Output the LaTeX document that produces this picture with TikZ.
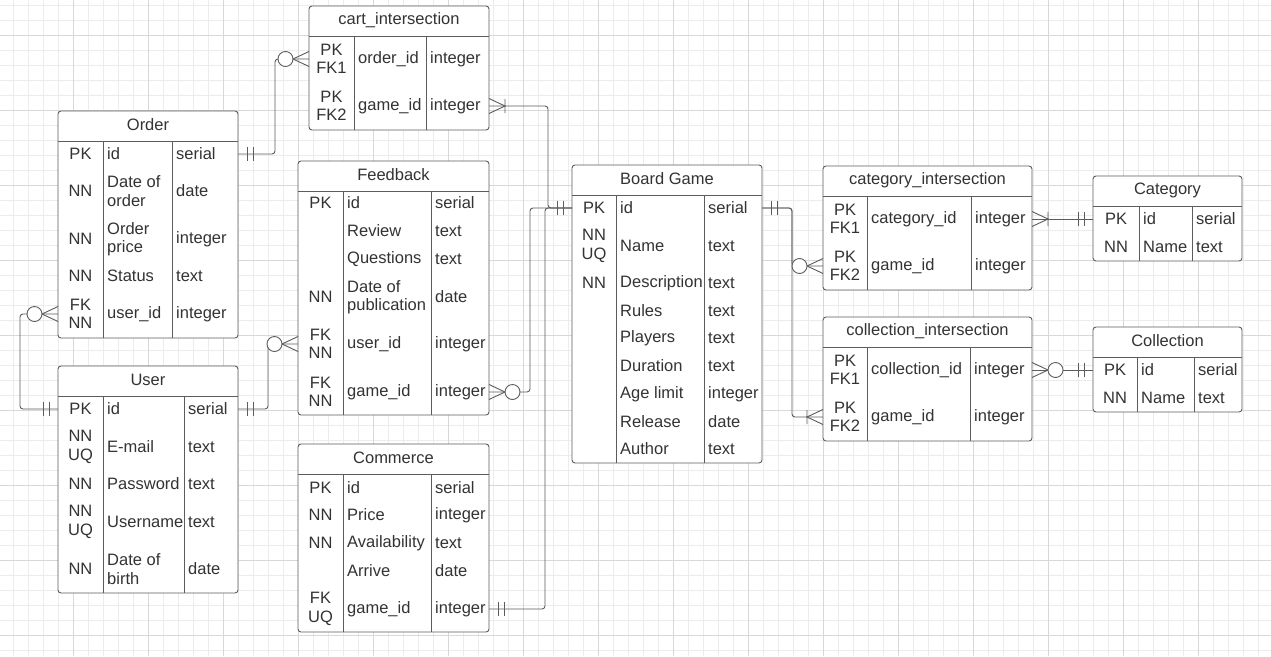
\documentclass[tikz,border=0pt]{standalone}
\usepackage{fontspec}
\setmainfont{Liberation Sans}
\definecolor{linegray}{RGB}{92,92,92}
\definecolor{txtgray}{RGB}{51,51,51}
\definecolor{gridminor}{RGB}{236,236,236}
\definecolor{gridmajor}{RGB}{216,216,216}

\tikzset{
  ermark/.style={draw=linegray, line width=0.9pt, sharp corners},
  erone/.pic={\draw[ermark] (9,-7) -- (9,7) (15,-7) -- (15,7);},
  eromany/.pic={\draw[ermark] (0,-7.5) -- (16,0) -- (0,7.5) (16,-7) -- (16,7);},
  erzmany/.pic={\draw[ermark] (0,-7.5) -- (16,0) -- (0,7.5);
    \draw[ermark, fill=white] (23.5,0) circle[radius=7.5pt];}
}

\begin{document}
\begin{tikzpicture}[x=1pt, y=-1pt,
    font=\fontsize{16.5}{18.5}\selectfont, text=txtgray,
    tbl/.style={draw=linegray, fill=white, line width=0.9pt, rounded corners=3pt,
      anchor=north west, inner sep=0pt, outer sep=0pt},
    tline/.style={draw=linegray, line width=0.9pt},
    ttl/.style={inner sep=0pt, yshift=-1pt},
    key/.style={align=center, inner sep=0pt, yshift=-1pt},
    fld/.style={align=left, anchor=west, inner sep=0pt, yshift=-1pt},
    typ/.style={anchor=west, inner sep=0pt, yshift=-1pt},
    conn/.style={draw=linegray, line width=0.9pt, rounded corners=3pt}]

  \useasboundingbox (0,0) rectangle (1271,656);
  \fill[white] (0,0) rectangle (1271,656);

  % grid
  \foreach \gx in {13,28,...,1270} \draw[gridminor] (\gx,0) -- (\gx,656);
  \foreach \gy in {5,20,...,655} \draw[gridminor] (0,\gy) -- (1271,\gy);
  \foreach \gx in {73,148,...,1270} \draw[gridmajor] (\gx,0) -- (\gx,656);
  \foreach \gy in {35,110,...,655} \draw[gridmajor] (0,\gy) -- (1271,\gy);

  % Order
  \node[tbl, minimum width=180pt, minimum height=227pt] (order) at (58,111) {};
  \node[ttl] at ([yshift=-13pt]order.north) {Order};
  \draw[tline] (58,141) -- (238,141) (103,141) -- (103,338) (172,141) -- (172,338);
  \foreach \ry/\rk/\rf/\rt [count=\i] in {153/PK/id/serial, 190/NN/{Date of\\order}/date,
      238/NN/{Order\\price}/integer, 275/NN/Status/text, 313/{FK\\NN}/user\_id/integer}{
    \node[key] at (80.5,\ry) {\rk};
    \node[fld] (order-\i) at (107,\ry) {\rf};
    \node[typ] at (176,\ry) {\rt};
  }

  % cart_intersection
  \node[tbl, minimum width=180pt, minimum height=124pt] (cart) at (309,6) {};
  \node[ttl] at ([yshift=-13pt]cart.north) {cart\_intersection};
  \draw[tline] (309,36) -- (489,36) (354,36) -- (354,130) (426,36) -- (426,130);
  \foreach \ry/\rk/\rf/\rt [count=\i] in {58/{PK\\FK1}/order\_id/integer,
      105/{PK\\FK2}/game\_id/integer}{
    \node[key] at (331.5,\ry) {\rk};
    \node[fld] (cart-\i) at (358,\ry) {\rf};
    \node[typ] at (430,\ry) {\rt};
  }

  % Feedback
  \node[tbl, minimum width=191pt, minimum height=254pt] (fb) at (298,161) {};
  \node[ttl] at ([yshift=-13pt]fb.north) {Feedback};
  \draw[tline] (298,191) -- (489,191) (343,191) -- (343,415) (431,191) -- (431,415);
  \foreach \ry/\rk/\rf/\rt [count=\i] in {202/PK/id/serial, 230/{}/Review/text,
      258/{}/Questions/text, 296/NN/{Date of\\publication}/date,
      343/{FK\\NN}/user\_id/integer, 391/{FK\\NN}/game\_id/integer}{
    \node[key] at (320.5,\ry) {\rk};
    \node[fld] (fb-\i) at (347,\ry) {\rf};
    \node[typ] at (435,\ry) {\rt};
  }

  % User
  \node[tbl, minimum width=180pt, minimum height=227pt] (user) at (58,366) {};
  \node[ttl] at ([yshift=-13pt]user.north) {User};
  \draw[tline] (58,396) -- (238,396) (103,396) -- (103,593) (184,396) -- (184,593);
  \foreach \ry/\rk/\rf/\rt [count=\i] in {408/PK/id/serial, 446/{NN\\UQ}/E-mail/text,
      483/NN/Password/text, 521/{NN\\UQ}/Username/text, 568/NN/{Date of\\birth}/date}{
    \node[key] at (80.5,\ry) {\rk};
    \node[fld] (user-\i) at (107,\ry) {\rf};
    \node[typ] at (188,\ry) {\rt};
  }

  % Commerce
  \node[tbl, minimum width=191pt, minimum height=188pt] (com) at (298,444) {};
  \node[ttl] at ([yshift=-13pt]com.north) {Commerce};
  \draw[tline] (298,474) -- (489,474) (343,474) -- (343,632) (431,474) -- (431,632);
  \foreach \ry/\rk/\rf/\rt [count=\i] in {487/PK/id/serial, 514/NN/Price/integer,
      542/NN/Availability/text, 570/{}/Arrive/date, 608/{FK\\UQ}/game\_id/integer}{
    \node[key] at (320.5,\ry) {\rk};
    \node[fld] (com-\i) at (347,\ry) {\rf};
    \node[typ] at (435,\ry) {\rt};
  }

  % Board Game
  \node[tbl, minimum width=190pt, minimum height=298pt] (bg) at (572,165) {};
  \node[ttl] at ([yshift=-13pt]bg.north) {Board Game};
  \draw[tline] (572,195) -- (762,195) (616,195) -- (616,463) (704,195) -- (704,463);
  \foreach \ry/\rk/\rf/\rt [count=\i] in {207/PK/id/serial, 245/{NN\\UQ}/Name/text,
      282/NN/Description/text, 310/{}/Rules/text, 337/{}/Players/text,
      365/{}/Duration/text, 393/{}/Age limit/integer, 421/{}/Release/date,
      448/{}/Author/text}{
    \node[key] at (594,\ry) {\rk};
    \node[fld] (bg-\i) at (620,\ry) {\rf};
    \node[typ] at (708,\ry) {\rt};
  }

  % category_intersection
  \node[tbl, minimum width=209pt, minimum height=124pt] (catint) at (823,166) {};
  \node[ttl] at ([yshift=-13pt]catint.north) {category\_intersection};
  \draw[tline] (823,196) -- (1032,196) (867,196) -- (867,290) (971,196) -- (971,290);
  \foreach \ry/\rk/\rf/\rt [count=\i] in {218/{PK\\FK1}/category\_id/integer,
      265/{PK\\FK2}/game\_id/integer}{
    \node[key] at (845,\ry) {\rk};
    \node[fld] (catint-\i) at (871,\ry) {\rf};
    \node[typ] at (975,\ry) {\rt};
  }

  % collection_intersection
  \node[tbl, minimum width=209pt, minimum height=124pt] (colint) at (823,317) {};
  \node[ttl] at ([yshift=-13pt]colint.north) {collection\_intersection};
  \draw[tline] (823,347) -- (1032,347) (867,347) -- (867,441) (970,347) -- (970,441);
  \foreach \ry/\rk/\rf/\rt [count=\i] in {369/{PK\\FK1}/collection\_id/integer,
      416/{PK\\FK2}/game\_id/integer}{
    \node[key] at (845,\ry) {\rk};
    \node[fld] (colint-\i) at (871,\ry) {\rf};
    \node[typ] at (974,\ry) {\rt};
  }

  % Category
  \node[tbl, minimum width=149pt, minimum height=85pt] (cat) at (1093,176) {};
  \node[ttl] at ([yshift=-13pt]cat.north) {Category};
  \draw[tline] (1093,206) -- (1242,206) (1139,206) -- (1139,261) (1192,206) -- (1192,261);
  \foreach \ry/\rk/\rf/\rt [count=\i] in {218/PK/id/serial, 246/NN/Name/text}{
    \node[key] at (1116,\ry) {\rk};
    \node[fld] (cat-\i) at (1143,\ry) {\rf};
    \node[typ] at (1196,\ry) {\rt};
  }

  % Collection
  \node[tbl, minimum width=149pt, minimum height=85pt] (coll) at (1093,327) {};
  \node[ttl] at ([yshift=-13pt]coll.north) {Collection};
  \draw[tline] (1093,357) -- (1242,357) (1137,357) -- (1137,412) (1194,357) -- (1194,412);
  \foreach \ry/\rk/\rf/\rt [count=\i] in {369/PK/id/serial, 397/NN/Name/text}{
    \node[key] at (1115,\ry) {\rk};
    \node[fld] (coll-\i) at (1141,\ry) {\rf};
    \node[typ] at (1198,\ry) {\rt};
  }

  % relations
  \draw[conn] (order.east |- order-1) -| ([xshift=-34pt]cart.west |- cart-1) -- (cart.west |- cart-1);
  \draw[conn] (cart.east |- cart-2) -| ([xshift=-24pt]bg.west |- bg-1) -- (bg.west |- bg-1);
  \draw[conn] (fb.east |- fb-6) -| ([xshift=-42pt]bg.west |- bg-1) -- (bg.west |- bg-1);
  \draw[conn] (com.east |- com-5) -| ([xshift=-27pt]bg.west |- bg-1) -- (bg.west |- bg-1);
  \draw[conn] (order.west |- order-5) -| ([xshift=-38pt]user.west |- user-1) -- (user.west |- user-1);
  \draw[conn] (user.east |- user-1) -| ([xshift=-30pt]fb.west |- fb-5) -- (fb.west |- fb-5);
  \draw[conn] (bg.east |- bg-1) -| ([xshift=-31pt]catint.west |- catint-2) -- (catint.west |- catint-2);
  \draw[conn] (bg.east |- bg-1) -| ([xshift=-31pt]colint.west |- colint-2) -- (colint.west |- colint-2);
  \draw[conn] (catint.east |- catint-1) -- (cat.west |- cat-1);
  \draw[conn] (colint.east |- colint-1) -- (coll.west |- coll-1);

  % ends
  \pic at (order.east |- order-1) {erone};
  \pic[rotate=180] at (cart.west |- cart-1) {erzmany};
  \pic at (cart.east |- cart-2) {eromany};
  \pic[rotate=180] at (bg.west |- bg-1) {erone};
  \pic at (fb.east |- fb-6) {erzmany};
  \pic at (com.east |- com-5) {erone};
  \pic[rotate=180] at (order.west |- order-5) {erzmany};
  \pic[rotate=180] at (user.west |- user-1) {erone};
  \pic at (user.east |- user-1) {erone};
  \pic[rotate=180] at (fb.west |- fb-5) {erzmany};
  \pic at (bg.east |- bg-1) {erone};
  \pic[rotate=180] at (catint.west |- catint-2) {erzmany};
  \pic[rotate=180] at (colint.west |- colint-2) {eromany};
  \pic at (catint.east |- catint-1) {eromany};
  \pic[rotate=180] at (cat.west |- cat-1) {erone};
  \pic at (colint.east |- colint-1) {erzmany};
  \pic[rotate=180] at (coll.west |- coll-1) {erone};
\end{tikzpicture}
\end{document}
